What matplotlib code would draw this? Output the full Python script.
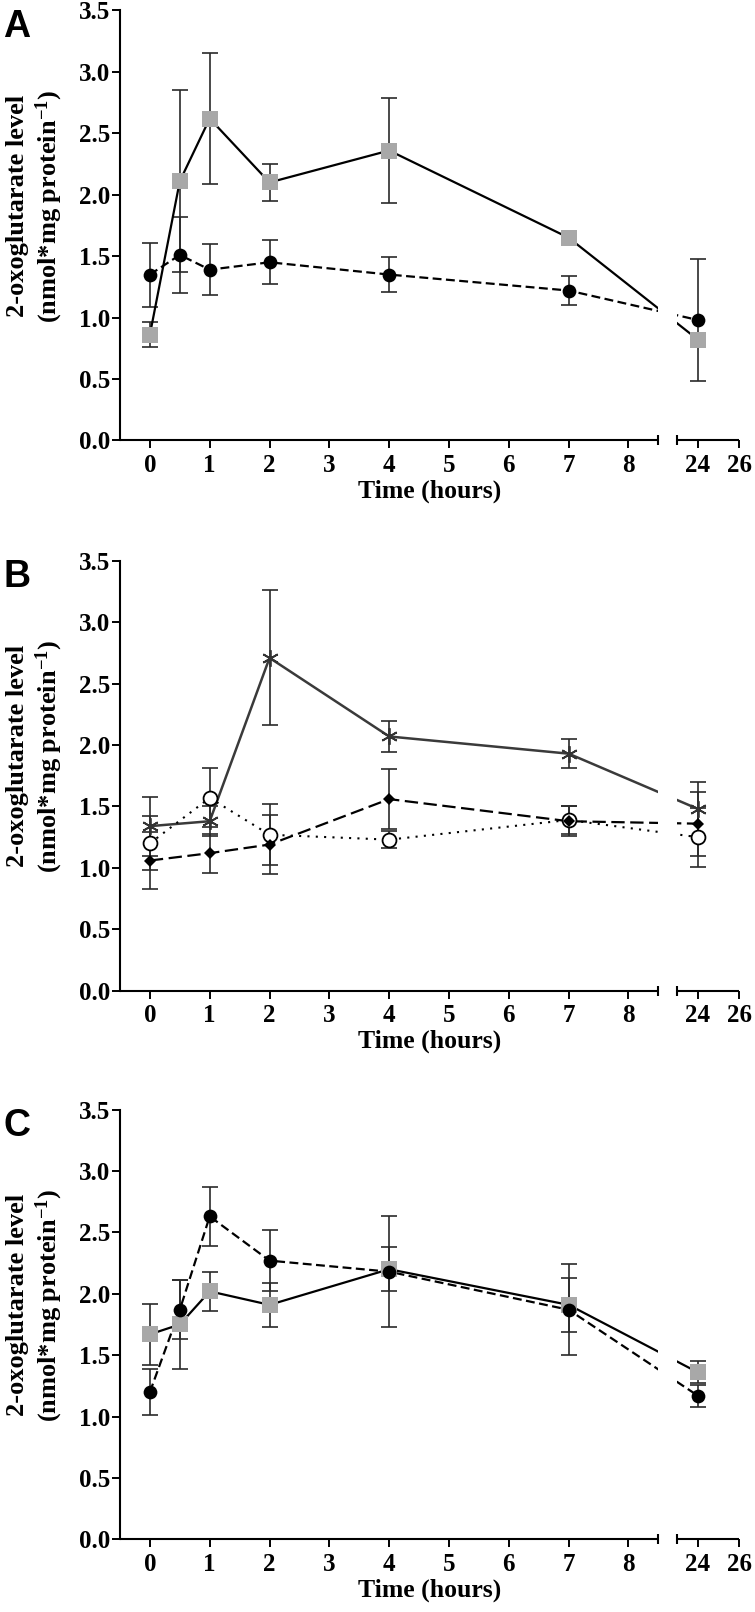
import numpy as np
import matplotlib
matplotlib.use('Agg')
import matplotlib.pyplot as plt

plt.rcParams['font.family'] = 'Liberation Serif'
plt.rcParams['font.weight'] = 'bold'
plt.rcParams['axes.labelweight'] = 'bold'
plt.rcParams['mathtext.fontset'] = 'custom'
plt.rcParams['mathtext.rm'] = 'Liberation Serif:bold'
plt.rcParams['mathtext.it'] = 'Liberation Serif:bold'
plt.rcParams['mathtext.bf'] = 'Liberation Serif:bold'

# ---- data ----
nan = np.nan

# panel A
times_a = [0, 0.5, 1, 2, 4, 7, 24]
sq_a = [0.86, 2.11, 2.62, 2.10, 2.36, 1.65, 0.82]
sq_a_err = [0.10, 0.74, 0.53, 0.15, 0.43, nan, nan]
ci_a = [1.35, 1.51, 1.39, 1.45, 1.35, 1.22, 0.98]
ci_a_err = [0.26, 0.31, 0.21, 0.18, 0.14, 0.12, 0.50]

# panel B
times_b = [0, 1, 2, 4, 7, 24]
star_b = [1.34, 1.38, 2.71, 2.07, 1.93, 1.48]
star_b_err = [0.24, 0.12, 0.55, 0.125, 0.12, 0.22]
open_b = [1.20, 1.57, 1.27, 1.23, 1.39, 1.25]
open_b_err = [0.22, 0.24, 0.25, 0.07, 0.11, 0.24]
dia_b = [1.06, 1.12, 1.19, 1.56, 1.38, 1.36]
dia_b_err = [0.23, 0.16, 0.24, 0.245, 0.12, 0.26]

# panel C
times_c = [0, 0.5, 1, 2, 4, 7, 24]
sq_c = [1.67, 1.75, 2.02, 1.91, 2.20, 1.91, 1.36]
sq_c_err = [0.25, 0.36, 0.16, 0.18, 0.18, 0.22, 0.09]
ci_c = [1.20, 1.87, 2.63, 2.27, 2.18, 1.87, 1.17]
ci_c_err = [0.19, 0.24, 0.24, 0.25, 0.45, 0.37, 0.09]

xticks = [0, 1, 2, 3, 4, 5, 6, 7, 8, 24, 26]
yticks = [0.0, 0.5, 1.0, 1.5, 2.0, 2.5, 3.0, 3.5]
panel_letters = ['A', 'B', 'C']

# ---- broken x axis: 0..8.5 then 23..26 compressed ----
BREAK_LO, BREAK_HI = 8.5, 23.0
GAP = 0.314
K = 0.347


def fwd(x):
    x = np.asarray(x, dtype=float)
    return np.where(x <= BREAK_LO, x,
                    np.where(x >= BREAK_HI, BREAK_LO + GAP + (x - BREAK_HI) * K,
                             BREAK_LO + (x - BREAK_LO) * GAP / (BREAK_HI - BREAK_LO)))


def inv(u):
    u = np.asarray(u, dtype=float)
    hi = BREAK_LO + GAP
    return np.where(u <= BREAK_LO, u,
                    np.where(u >= hi, BREAK_HI + (u - hi) / K,
                             BREAK_LO + (u - BREAK_LO) * (BREAK_HI - BREAK_LO) / GAP))


GRAY = '#a8a8a8'
ERR = '#2a2a2a'
eb_kw = dict(fmt='none', ecolor=ERR, elinewidth=1.2, capsize=6, capthick=1.2, zorder=2)


def setup(ax, letter):
    ax.set_xscale('function', functions=(fwd, inv))
    ax.set_xlim(-0.5, 26)
    ax.set_ylim(0, 3.5)
    ax.set_xticks(xticks)
    ax.set_xticklabels([str(t) for t in xticks])
    ax.set_yticks(yticks)
    ax.set_yticklabels(['%.1f' % v for v in yticks])
    for s in ['top', 'right', 'bottom']:
        ax.spines[s].set_visible(False)
    ax.spines['left'].set_linewidth(1.5)
    ax.tick_params(axis='both', direction='out', length=5.8, width=1.4, labelsize=18)
    ax.tick_params(axis='y', pad=1.5)
    ax.tick_params(axis='x', pad=4)

    xt = ax.get_xaxis_transform()
    ax.plot([-0.5, BREAK_LO], [0, 0], transform=xt, color='black', lw=1.5,
            clip_on=False, solid_capstyle='butt', zorder=5)
    ax.plot([BREAK_HI, 26], [0, 0], transform=xt, color='black', lw=1.5,
            clip_on=False, solid_capstyle='butt', zorder=5)
    ax.plot([BREAK_LO, BREAK_HI], [0, 0], transform=xt, marker='|', ms=7, mew=1.5,
            ls='none', color='black', clip_on=False, zorder=5)
    ax.axvspan(BREAK_LO, BREAK_HI, color='white', zorder=2.5, lw=0)

    ax.set_xlabel('Time (hours)', fontsize=18.5, fontweight='bold', labelpad=1.5)
    ax.text(-0.137, 0.545, '2-oxoglutarate level\n(nmol*mg protein$^{-1}$)',
            rotation=90, transform=ax.transAxes, ha='center', va='center',
            fontsize=19, fontweight='bold', multialignment='center')
    ax.text(-0.188, 0.938, letter, family='Liberation Sans', fontweight='bold',
            fontsize=27, transform=ax.transAxes, va='baseline', ha='left')


fig = plt.figure(figsize=(7.55, 16.12), dpi=100)
left, width, height = 0.1589, 0.8205, 0.2667
bottoms = [0.7268, 0.3854, 0.0450]
axes = [fig.add_axes([left, b, width, height]) for b in bottoms]

for ax, letter in zip(axes, panel_letters):
    setup(ax, letter)

# panel A
ax = axes[0]
ax.errorbar(times_a, sq_a, yerr=sq_a_err, **eb_kw)
ax.errorbar(times_a, ci_a, yerr=ci_a_err, **eb_kw)
ax.plot(times_a, sq_a, color='black', lw=1.6, zorder=2)
ax.plot(times_a, ci_a, color='black', lw=1.6, ls=(0, (4, 2)), zorder=2)
ax.plot(times_a, sq_a, 's', color=GRAY, ms=11.3, mew=0, zorder=4)
ax.plot(times_a, ci_a, 'o', color='black', ms=9.9, mew=0, zorder=4)

# panel B
ax = axes[1]
ax.errorbar(times_b, star_b, yerr=star_b_err, **eb_kw)
ax.errorbar(times_b, open_b, yerr=open_b_err, **eb_kw)
ax.errorbar(times_b, dia_b, yerr=dia_b_err, **eb_kw)
ax.plot(times_b, star_b, color='#3a3a3a', lw=1.8, zorder=2)
ax.plot(times_b, open_b, color='black', lw=1.5, ls=(0, (1, 3)), zorder=2)
ax.plot(times_b, dia_b, color='black', lw=1.6, ls=(0, (6, 2.5)), zorder=2)
ax.plot(times_b, star_b, marker=(6, 2, 0), ls='none', color='#333333', ms=12, mew=1.3, zorder=4)
ax.plot(times_b, open_b, 'o', ls='none', mfc='white', mec='black', ms=10, mew=1.3, zorder=4)
ax.plot(times_b, dia_b, 'D', ls='none', color='black', ms=6.5, mew=0, zorder=4)

# panel C
ax = axes[2]
ax.errorbar(times_c, sq_c, yerr=sq_c_err, **eb_kw)
ax.errorbar(times_c, ci_c, yerr=ci_c_err, **eb_kw)
ax.plot(times_c, sq_c, color='black', lw=1.6, zorder=2)
ax.plot(times_c, ci_c, color='black', lw=1.6, ls=(0, (4, 2)), zorder=2)
ax.plot(times_c, sq_c, 's', color=GRAY, ms=11.3, mew=0, zorder=4)
ax.plot(times_c, ci_c, 'o', color='black', ms=9.9, mew=0, zorder=4)

fig.savefig('out.png', dpi=100)
